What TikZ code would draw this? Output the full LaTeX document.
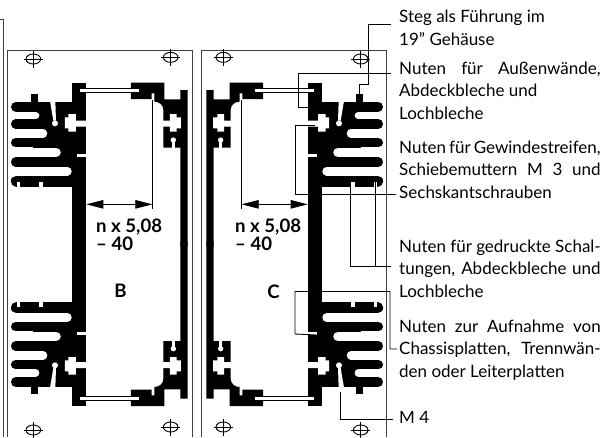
\documentclass[tikz,border=0pt]{standalone}
\usepackage{fontspec}
\setmainfont{Lato}
\usetikzlibrary{arrows.meta}
\tikzset{
  ink/.style={fill=black,draw=none},
  cut/.style={fill=white,draw=none},
  fin/.style={draw=black,line cap=round},
  gap/.style={draw=white,line cap=round},
  framel/.style={draw=black!75,line width=1pt},
  leader/.style={draw=black,line width=0.9pt},
  dimline/.style={draw=black,line width=0.8pt,{Triangle[length=17pt,width=8.5pt]}-{Triangle[length=17pt,width=8.5pt]}},
  thin line/.style={draw=black,line width=0.8pt},
  lbl/.style={anchor=base west,inner sep=0pt,align=left,font=\fontsize{17}{22.3}\selectfont},
  dimlbl/.style={anchor=base west,inner sep=0pt,align=left,font=\fontsize{18.6}{18.5}\selectfont\bfseries},
  hole/.style={draw=black,line width=0.9pt},
}
\newcommand{\J}[1]{\makebox[201.5pt][s]{#1}}
\newcommand{\halfprofile}{%
  \fill[ink] (215,248)--(259,248)--(259,740)--(215,740)--cycle;
  \fill[ink] (215,305)--(100,305)--(100,560)--(215,560)--cycle;
  \fill[ink] (92,283) rectangle (114,306);
  \draw[fin,line width=10pt] (48,320)--(110,320);
  \draw[fin,line width=9.4pt] (47,372)--(110,372);
  \draw[fin,line width=9.4pt] (47,428)--(110,428);
  \draw[fin,line width=9.4pt] (47,486)--(110,486);
  \draw[fin,line width=11pt] (49,543)--(110,543);
  \draw[gap,line width=7.4pt] (70,347)--(107,347);
  \draw[gap,line width=8.6pt] (70,400)--(129,400);
  \draw[gap,line width=9.6pt] (70,457)--(168,457);
  \draw[gap,line width=8.8pt] (70,513.5)--(202,513.5);
  \fill[cut] (50,546) rectangle (60,562);
  \fill[cut] (118,546) rectangle (128,562);
  \fill[cut] (150,303)--(166,303)--(168,362)--(160,362)--cycle;
  \fill[cut] (165,370) circle[radius=9];
  \fill[cut] (195,352)--(205,352)--(205,342)--(228,342)--(228,362)--(262,362)--(262,380)--(228,380)--(228,395)--(205,395)--(205,385)--(195,385)--cycle;
  \fill[cut] (232,462) rectangle (262,470);
  \fill[ink] (393,248)--(493,248)--(493,298)--(541,298)--(541,270)--(563,270)--(563,740)--(541,740)--(541,443)--(490,443)--(490,330) .. controls (490,315) and (478,305) .. (463,305)--(463,280)--(455,280)--(455,297)--(393,297)--cycle;
  \fill[cut] (488,362)--(510,362)--(510,342)--(530,342)--(530,352)--(543,352)--(543,385)--(530,385)--(530,395)--(510,395)--(510,380)--(488,380)--cycle;
  \fill[cut] (520,420) circle[radius=8];
  \fill[cut] (516,420) rectangle (524,445);
  \fill[ink] (258,263) rectangle (394,278.5);
  \fill[cut] (240,267) rectangle (418,274.5);
}
\newcommand{\panel}{%
  \draw[framel] (23,1311)--(23,150)--(578,150)--(578,1311);
  \halfprofile
  \begin{scope}[yshift=-488.667pt,yscale=-1]
    \halfprofile
  \end{scope}
  \coordinate (dimA) at (259,613);
  \coordinate (dimB) at (457,613);
  \coordinate (dimT) at (457,300);
  \draw[thin line] (dimT)--(457,626);
  \draw[dimline] (dimA)--(dimB);
  \foreach \hx/\hy in {100/177,512/172,100/1290,512/1281}{
    \draw[hole] (\hx,\hy) ellipse[x radius=22,y radius=15];
    \draw[hole] (\hx-28,\hy)--(\hx+28,\hy);
    \draw[hole] (\hx,\hy-24)--(\hx,\hy+27);
  }
}
\begin{document}
\begin{tikzpicture}[x=1pt,y=-1pt]
\useasboundingbox (0,0) rectangle (602,437);
\fill[white] (0,0) rectangle (602,437);
\draw[framel] (0,19)--(3,19)--(3,437);
\begin{scope}[x=0.33333pt,y=-0.33333pt]
  \panel
\end{scope}
\begin{scope}[xshift=394pt,xscale=-1,x=0.33333pt,y=-0.33333pt]
  \panel
\end{scope}
% text
\node[dimlbl] (dimb) at (96,250.5) {n x 5,08\\– 40};
\node[dimlbl] (dimc) at (235,250.5) {n x 5,08\\– 40};
\node[dimlbl,anchor=base] (letb) at (120.5,297) {B};
\node[dimlbl,anchor=base] (letc) at (273.5,298) {C};
\node[lbl] (t1) at (399,45) {Steg als Führung im\\19" Gehäuse};
\node[lbl] (t2) at (399,119) {\J{Nuten für Außenwände,}\\Abdeckbleche und\\Lochbleche};
\node[lbl] (t3) at (399,198) {\J{Nuten für Gewindestreifen,}\\\J{Schiebemuttern M 3 und}\\Sechskantschrauben};
\node[lbl] (t4) at (399,297) {\J{Nuten für gedruckte Schal-}\\\J{tungen, Abdeckbleche und}\\Lochbleche};
\node[lbl] (t5) at (399,377) {\J{Nuten zur Aufnahme von}\\\J{Chassisplatten, Trennwän-}\\den oder Leiterplatten};
\node[lbl] (t6) at (399,423) {M 4};
% leaders
\coordinate (a1) at (391,24); \coordinate (a2) at (359.5,94);
\draw[leader] (a1)--(368.5,24)--(368.5,84)--(359.5,84)--(a2);
\coordinate (b1) at (391,73); \coordinate (b2) at (308,107);
\draw[leader] (b1)--(298.3,73)--(298.3,107)--(b2);
\coordinate (c1) at (396,194); \coordinate (c2) at (315,125);
\draw[leader] (c1)--(295,194)--(295,125)--(c2);
\coordinate (d1) at (391,266); \coordinate (d2) at (350.7,182); \coordinate (d3) at (375,182);
\draw[leader] (d1)--(350.7,266)--(d2);
\draw[leader] (375,266)--(d3);
\coordinate (e1) at (397,349); \coordinate (e2) at (317,335);
\draw[leader] (e1)--(390,349)--(390,291.5)--(295,291.5)--(295,334)--(e2);
\coordinate (f1) at (393,419); \coordinate (f2) at (340,392);
\draw[leader] (f1)--(340,419)--(f2);
\end{tikzpicture}
\end{document}
